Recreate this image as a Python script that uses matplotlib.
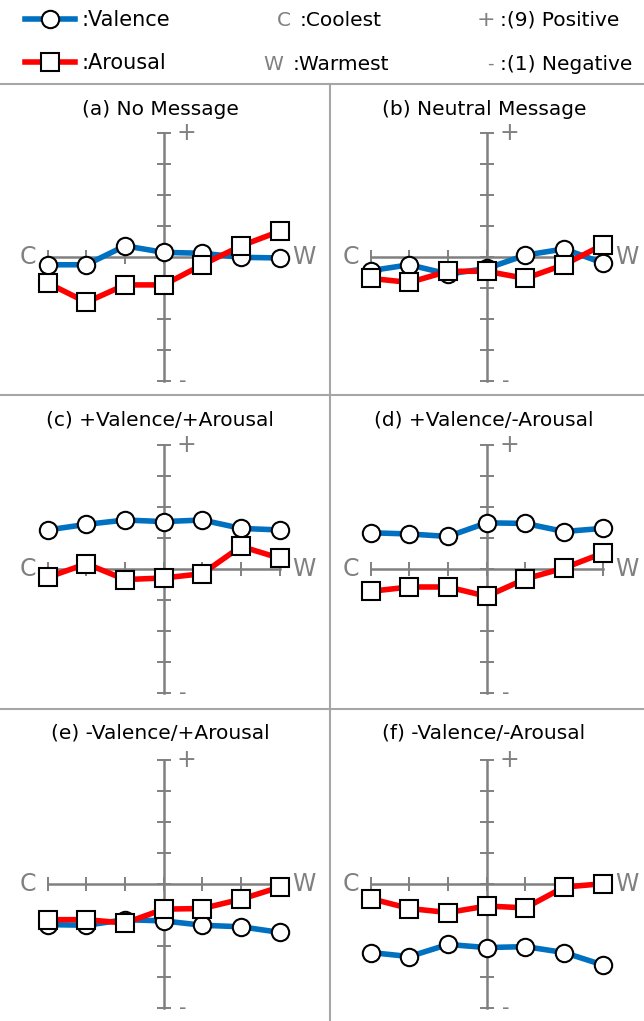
import numpy as np
import matplotlib
matplotlib.use('Agg')
import matplotlib.pyplot as plt
from matplotlib.lines import Line2D

# temperature steps, coolest (C) to warmest (W)
temps = [-3, -2, -1, 0, 1, 2, 3]

titles = ['(a) No Message', '(b) Neutral Message',
          '(c) +Valence/+Arousal', '(d) +Valence/-Arousal',
          '(e) -Valence/+Arousal', '(f) -Valence/-Arousal']

# ratings on 1..9 scale (5 = neutral)
valence_a = [4.74, 4.74, 5.35, 5.14, 5.11, 4.98, 4.96]
arousal_a = [4.15, 3.53, 4.09, 4.09, 4.74, 5.35, 5.82]
valence_b = [4.55, 4.74, 4.44, 4.62, 5.05, 5.25, 4.80]
arousal_b = [4.30, 4.17, 4.53, 4.53, 4.30, 4.74, 5.38]
valence_c = [6.25, 6.43, 6.57, 6.52, 6.57, 6.30, 6.25]
arousal_c = [4.72, 5.16, 4.65, 4.70, 4.84, 5.72, 5.34]
valence_d = [6.16, 6.12, 6.04, 6.48, 6.46, 6.20, 6.30]
arousal_d = [4.27, 4.41, 4.41, 4.11, 4.67, 5.02, 5.50]
valence_e = [3.68, 3.66, 3.84, 3.80, 3.66, 3.61, 3.43]
arousal_e = [3.84, 3.84, 3.73, 4.18, 4.20, 4.50, 4.89]
valence_f = [2.78, 2.65, 3.04, 2.94, 2.97, 2.78, 2.38]
arousal_f = [4.52, 4.20, 4.07, 4.28, 4.22, 4.89, 5.00]

valence = [valence_a, valence_b, valence_c, valence_d, valence_e, valence_f]
arousal = [arousal_a, arousal_b, arousal_c, arousal_d, arousal_e, arousal_f]

BLUE = '#0070c0'
RED = '#ff0000'
GRAY = '#808080'
W, H = 644, 1021

fig = plt.figure(figsize=(W / 100, H / 100), dpi=100)


def px_rect(x0, y0, w, h):
    # pixel box (top-left origin) -> figure fraction
    return [x0 / W, 1 - (y0 + h) / H, w / W, h / H]


# panel geometry in pixels
col_x = [47.7, 370.7]
row_y = [132.7, 444.7, 759.7]
ax_w, ax_h = 232, 248
title_x = [160, 484]
title_y = [109, 420, 733]

line_kw = dict(lw=4, ms=12.5, mfc='white', mec='black', mew=1.5)

for i in range(6):
    r, c = divmod(i, 2)
    ax = fig.add_axes(px_rect(col_x[c], row_y[r], ax_w, ax_h))
    ax.set_xlim(-3, 3)
    ax.set_ylim(1, 9)
    ax.patch.set_alpha(0)
    for s in ['top', 'right']:
        ax.spines[s].set_visible(False)
    ax.spines['left'].set_position(('data', 0))
    ax.spines['bottom'].set_position(('data', 5))
    for s in ['left', 'bottom']:
        ax.spines[s].set_color(GRAY)
        ax.spines[s].set_linewidth(1.8)
        ax.spines[s].set_zorder(1)
    ax.set_xticks(temps)
    ax.set_yticks(range(1, 10))
    ax.tick_params(direction='inout', length=10, width=1.4, color=GRAY,
                   labelbottom=False, labelleft=False)

    ax.plot(temps, valence[i], color=BLUE, marker='o', clip_on=False,
            zorder=3, **line_kw)
    ax.plot(temps, arousal[i], color=RED, marker='s', clip_on=False,
            zorder=4, **line_kw)

    ax.annotate('C', (-3, 5), xytext=(-8, 0), textcoords='offset points',
                ha='right', va='center', color=GRAY, fontsize=17, zorder=2)
    ax.annotate('W', (3, 5), xytext=(9, 0), textcoords='offset points',
                ha='left', va='center', color=GRAY, fontsize=17, zorder=2)
    ax.annotate('+', (0, 9), xytext=(16, 0), textcoords='offset points',
                ha='center', va='center', color=GRAY, fontsize=17)
    ax.annotate('-', (0, 1), xytext=(14, 0), textcoords='offset points',
                ha='center', va='center', color=GRAY, fontsize=15)

    fig.text(title_x[c] / W, 1 - title_y[r] / H, titles[i], ha='center',
             va='center', fontsize=14.5)

# cell borders
border = dict(color='#a6a6a6', lw=1.5)
fig.add_artist(Line2D([0, 1], [1 - 84 / H] * 2, **border))
fig.add_artist(Line2D([330 / W] * 2, [0, 1 - 84 / H], **border))
for yb in [395, 709]:
    fig.add_artist(Line2D([0, 1], [1 - yb / H] * 2, **border))

# legend
handles = [Line2D([], [], color=BLUE, marker='o', **line_kw),
           Line2D([], [], color=RED, marker='s', **line_kw)]
fig.legend(handles, [':Valence', ':Arousal'], loc='upper left',
           bbox_to_anchor=(25 / W, 1 - 10 / H), frameon=False, fontsize=15,
           handlelength=2.4, handletextpad=0.3, labelspacing=1.1,
           borderpad=0, borderaxespad=0)

fig.text(277 / W, 1 - 20 / H, 'C', color=GRAY, fontsize=14.5, va='center')
fig.text(300 / W, 1 - 20 / H, ':Coolest', fontsize=14.5, va='center')
fig.text(263 / W, 1 - 64 / H, 'W', color=GRAY, fontsize=14.5, va='center')
fig.text(293 / W, 1 - 64 / H, ':Warmest', fontsize=14.5, va='center')
fig.text(477 / W, 1 - 20 / H, '+', color=GRAY, fontsize=16, va='center')
fig.text(487 / W, 1 - 64 / H, '-', color=GRAY, fontsize=13, va='center')
fig.text(500 / W, 1 - 20 / H, ':(9) Positive', fontsize=14.5, va='center')
fig.text(500 / W, 1 - 64 / H, ':(1) Negative', fontsize=14.5, va='center')

fig.savefig('out.png', dpi=100)
